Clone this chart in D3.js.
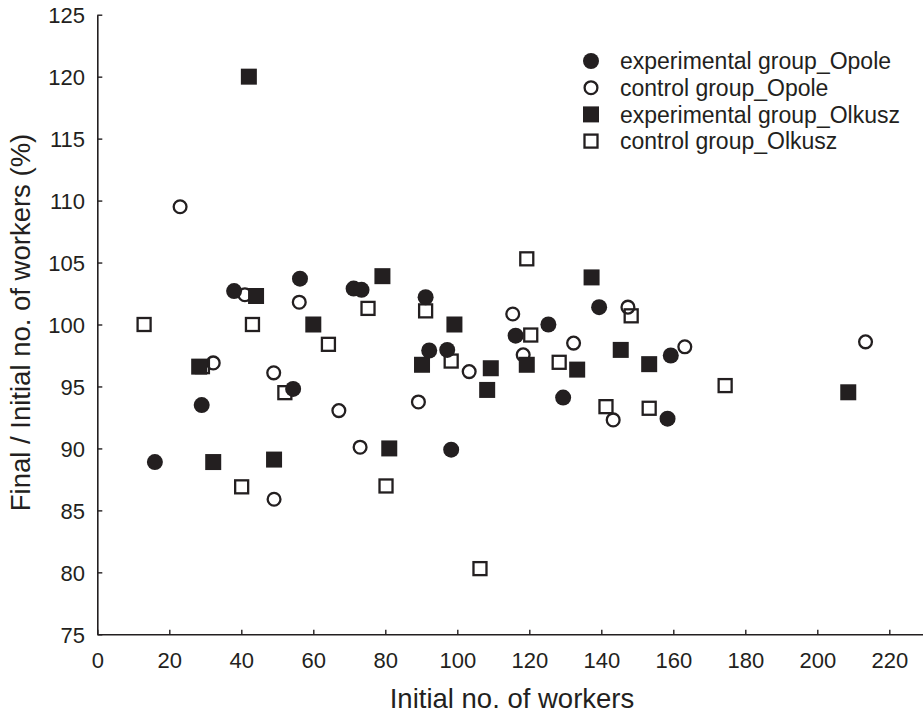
<!DOCTYPE html>
<html>
<head>
<meta charset="utf-8">
<script src="https://cdn.jsdelivr.net/npm/d3@7"></script>
<style>
  html, body { margin: 0; padding: 0; background: #fff; }
  svg { display: block; font-family: "Liberation Sans", Arial, Helvetica, sans-serif; }
</style>
</head>
<body>
<svg id="chart" width="923" height="717"></svg>
<script>
// ---- data ----
const seriesNames = ["experimental group_Opole", "control group_Opole", "experimental group_Olkusz", "control group_Olkusz"];

const expOpole = [
  [16, 88.9], [29, 93.5], [38, 102.7], [54.4, 94.8], [56.3, 103.7], [71.2, 102.9], [73.4, 102.8],
  [91.2, 102.2], [92.2, 97.9], [97.2, 97.95], [98.3, 89.9], [116.2, 99.1], [125.3, 100.0],
  [129.4, 94.1], [139.4, 101.4], [158.4, 92.4], [159.3, 97.5]
];
const ctrlOpole = [
  [23, 109.5], [32.2, 96.9], [41, 102.4], [49, 96.1], [49.1, 85.9], [56.1, 101.8], [67.1, 93.05],
  [73, 90.1], [89.2, 93.75], [103.3, 96.2], [115.4, 100.85], [118.3, 97.55], [132.3, 98.5],
  [143.3, 92.3], [147.4, 101.4], [163.2, 98.2], [213.4, 98.6]
];
const expOlkusz = [
  [28.3, 96.6], [32.2, 88.9], [42.1, 120], [44.1, 102.3], [49.1, 89.1], [60, 100], [79.2, 103.9],
  [81.1, 90.0], [90.2, 96.75], [99.2, 100], [108.3, 94.72], [109.3, 96.47], [119.3, 96.75],
  [133.3, 96.36], [137.3, 103.8], [145.4, 97.95], [153.3, 96.8], [208.6, 94.53]
];
const ctrlOlkusz = [
  [13, 100], [29.2, 96.6], [40.1, 86.9], [43.1, 100], [52.1, 94.5], [64.2, 98.4], [75.2, 101.3],
  [80.2, 86.97], [91.2, 101.1], [98.3, 97.05], [106.3, 80.3], [119.3, 105.3], [120.4, 99.15],
  [128.3, 96.95], [141.3, 93.37], [148.3, 100.7], [153.3, 93.24], [174.4, 95.07]
];

const xTicks = [0, 20, 40, 60, 80, 100, 120, 140, 160, 180, 200, 220];
const yTicks = [75, 80, 85, 90, 95, 100, 105, 110, 115, 120, 125];
const xTitle = "Initial no. of workers";
const yTitle = "Final / Initial no. of workers (%)";

// ---- drawing ----
const ink = "#231f20";
const svg = d3.select("#chart");
const x = d3.scaleLinear().domain([0, 230]).range([97.3, 925.3]);
const y = d3.scaleLinear().domain([75, 125]).range([634.3, 14.7]);

// axes
const xAxis = svg.append("g").attr("transform", `translate(0,${y(75)})`)
  .call(d3.axisBottom(x).tickValues(xTicks).tickSizeInner(-4.5).tickSizeOuter(0).tickPadding(0).tickFormat(d3.format("d")));
const yAxis = svg.append("g").attr("transform", `translate(${x(0)},0)`)
  .call(d3.axisLeft(y).tickValues(yTicks).tickSizeInner(-5).tickSizeOuter(0).tickPadding(0).tickFormat(d3.format("d")));

[xAxis, yAxis].forEach(g => {
  g.select(".domain").attr("stroke", ink).attr("stroke-width", 1.6);
  g.selectAll(".tick line").attr("stroke", ink).attr("stroke-width", 1.4);
  g.selectAll(".tick text").attr("fill", ink).attr("font-size", 22)
    .attr("font-family", "'Liberation Sans', Arial, sans-serif");
});
xAxis.selectAll(".tick text").attr("y", 668 - y(75)).attr("dy", null);
yAxis.selectAll(".tick text").attr("x", 85 - x(0)).attr("dy", "0.36em");

// titles
svg.append("text").attr("x", 512).attr("y", 708).attr("text-anchor", "middle")
  .attr("font-size", 27.5).attr("fill", ink).text(xTitle);
svg.append("text").attr("transform", "translate(29.5,322.5) rotate(-90)").attr("text-anchor", "middle")
  .attr("font-size", 27.5).attr("fill", ink).text(yTitle);

// marker painters
function drawMarker(sel, type) {
  if (type === 0) { // filled circle
    sel.append("circle").attr("r", 8).attr("fill", ink);
  } else if (type === 1) { // open circle
    sel.append("circle").attr("r", 6.4).attr("fill", "none").attr("stroke", ink).attr("stroke-width", 2.3);
  } else if (type === 2) { // filled square
    sel.append("rect").attr("x", -8).attr("y", -8).attr("width", 16).attr("height", 16).attr("fill", ink);
  } else { // open square
    sel.append("rect").attr("x", -6.5).attr("y", -6.5).attr("width", 13).attr("height", 13)
      .attr("fill", "none").attr("stroke", ink).attr("stroke-width", 2.3);
  }
}

const seriesData = [expOpole, ctrlOpole, expOlkusz, ctrlOlkusz];
const drawOrder = [1, 3, 2, 0];
drawOrder.forEach(si => {
  const g = svg.append("g").attr("class", "series-" + si);
  g.selectAll("g.pt").data(seriesData[si]).join("g").attr("class", "pt")
    .attr("transform", d => `translate(${x(d[0])},${y(d[1])})`)
    .each(function () { drawMarker(d3.select(this), si); });
});

// legend
const legend = svg.append("g");
const legendY = [61, 87.7, 114.4, 141.1];
seriesNames.forEach((name, i) => {
  const item = legend.append("g").attr("transform", `translate(591,${legendY[i]})`);
  drawMarker(item, i);
  item.append("text").attr("x", 29).attr("y", 8.3).attr("font-size", 23).attr("fill", ink).text(name);
});
</script>
</body>
</html>
